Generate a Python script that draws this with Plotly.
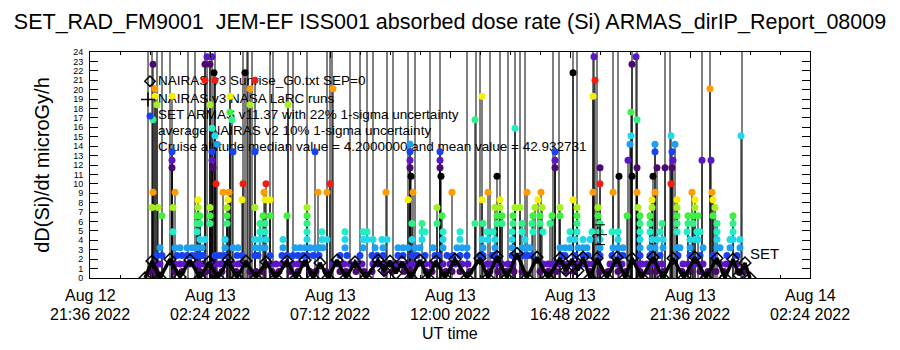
import plotly.graph_objects as go
import pandas as pd

# ---------------- data (times in hours after 2022-08-12 00:00 UT) ----------------
T_REF = pd.Timestamp("2022-08-12 00:00:00")
axis_start_h = 21.6
axis_end_h = 50.4
major_tick_hours = [21.6, 26.4, 31.2, 36.0, 40.8, 45.6, 50.4]
tick_line1 = ["Aug 12", "Aug 13", "Aug 13", "Aug 13", "Aug 13", "Aug 13", "Aug 14"]
tick_line2 = ["21:36 2022", "02:24 2022", "07:12 2022", "12:00 2022", "16:48 2022", "21:36 2022", "02:24 2022"]
y_tick_values = list(range(0, 25))

# SET ARMAS dose rate samples, grouped by quantised level (microGy/h)
set_levels = [0.7, 1.5, 2.4, 3.2, 4.1, 4.9, 5.8, 6.6, 7.5, 8.3, 9.1, 10.0, 10.8, 11.7,
              12.5, 13.4, 14.2, 15.1, 15.9, 16.8, 17.6, 18.4, 19.3, 20.1, 21.0, 21.8, 22.7, 23.5]
set_times = [
    [24.00, 24.24, 25.00, 25.28, 26.00, 26.24, 26.56, 26.88, 27.44, 28.00, 28.24, 28.48, 28.88, 29.16, 29.60,
     29.92, 30.40, 30.64, 31.04, 31.60, 31.84, 32.24, 32.56, 32.88, 33.36, 33.68, 34.16, 34.40, 35.04, 35.28,
     35.84, 36.08, 36.40, 36.80, 37.60, 37.92, 38.24, 38.56, 38.88, 39.60, 39.92, 40.24, 40.64, 40.96, 41.60,
     42.00, 42.32, 42.72, 43.04, 43.60, 43.92, 44.24, 44.56, 45.28, 45.60, 46.00, 46.32, 46.64, 46.96, 47.52, 47.76],
    [24.20, 24.40, 25.00, 25.20, 25.40, 25.60, 25.84, 26.00, 26.12, 26.60, 26.80, 27.00, 27.32, 27.52, 27.72,
     28.80, 29.04, 29.28, 29.40, 29.72, 29.92, 30.12, 31.32, 31.52, 31.76, 32.00, 32.28, 32.48, 32.92, 33.12,
     33.32, 33.60, 33.80, 34.00, 34.24, 34.48, 34.68, 35.00, 35.24, 35.72, 36.00, 36.20, 36.48, 36.72, 37.48,
     37.68, 37.88, 38.08, 38.32, 38.52, 39.72, 39.92, 40.12, 40.28, 40.52, 40.72, 40.92, 41.12, 41.32, 41.52,
     41.72, 42.40, 42.64, 42.88, 43.48, 43.68, 43.88, 44.08, 44.28, 44.48, 45.32, 45.52, 45.72, 45.92, 46.12,
     46.80, 47.04, 47.28, 47.48],
    [24.28, 24.48, 25.08, 25.28, 25.48, 25.68, 25.88, 26.00, 26.12, 26.60, 26.80, 27.00, 27.48, 27.68, 28.20,
     28.32, 28.80, 29.28, 29.48, 29.72, 29.92, 30.12, 30.28, 30.52, 30.76, 31.60, 31.88, 32.40, 32.88, 33.08,
     33.32, 33.92, 34.12, 34.48, 34.68, 35.00, 35.40, 35.52, 35.88, 36.12, 36.40, 36.68, 37.20, 37.32, 37.68,
     37.80, 38.48, 38.92, 39.12, 39.28, 40.48, 40.60, 41.00, 41.32, 41.52, 42.00, 42.48, 42.80, 42.92, 43.60,
     44.00, 44.40, 45.12, 45.60, 46.00, 46.52, 47.08, 47.48],
    [24.40, 25.00, 25.20, 25.48, 25.68, 25.88, 26.08, 27.00, 27.32, 27.52, 28.20, 28.40, 28.60, 29.32, 29.80,
     30.00, 30.20, 30.40, 30.60, 30.80, 30.92, 31.80, 32.52, 33.00, 33.32, 33.92, 34.12, 34.32, 34.60, 34.80,
     35.32, 35.72, 36.28, 36.48, 36.68, 37.32, 37.80, 38.48, 38.88, 39.08, 39.20, 40.40, 40.60, 40.80, 41.12,
     41.32, 41.48, 42.00, 42.52, 42.72, 42.92, 43.60, 44.00, 44.20, 44.52, 45.08, 45.20, 45.60, 46.12, 46.68,
     46.80, 47.20, 47.60],
    [26.00, 26.20, 27.00, 28.20, 28.40, 28.64, 29.32, 30.28, 30.88, 31.08, 31.80, 32.52, 32.68, 32.92, 33.28,
     33.48, 34.48, 34.88, 35.72, 36.40, 37.28, 37.52, 37.80, 38.48, 39.00, 40.80, 41.00, 41.32, 41.60, 42.00,
     42.72, 43.60, 44.08, 44.28, 44.52, 45.60, 45.80, 45.92, 46.68, 47.20, 47.32, 47.60],
    [24.92, 25.88, 28.40, 28.60, 30.28, 30.88, 31.80, 32.52, 32.68, 34.88, 35.00, 35.72, 36.40, 37.48, 37.72,
     38.48, 38.88, 39.32, 39.72, 40.80, 41.08, 41.68, 42.00, 42.48, 42.72, 43.60, 44.00, 44.40, 45.08, 45.48,
     45.88, 46.00, 46.68, 47.32],
    [25.88, 26.00, 26.40, 27.08, 28.40, 28.60, 30.28, 34.48, 34.88, 35.48, 37.00, 37.32, 37.88, 38.08, 38.52,
     38.88, 39.28, 39.60, 40.00, 41.08, 42.00, 43.60, 44.00, 44.48, 45.08, 45.52, 45.72, 46.68, 47.32],
    [24.48, 25.88, 26.00, 26.40, 27.08, 28.52, 28.80, 29.48, 30.28, 35.68, 37.88, 38.08, 38.52, 39.32, 39.60,
     40.08, 40.40, 41.08, 41.92, 43.08, 43.60, 44.00, 45.08, 45.52, 45.72, 45.92, 46.52, 47.32],
    [24.08, 24.32, 24.92, 25.92, 26.40, 27.08, 28.20, 30.28, 35.48, 37.80, 38.00, 38.60, 38.80, 39.40, 39.68,
     40.40, 41.08, 41.92, 43.52, 44.08, 45.08, 45.80, 46.60],
    [25.92, 27.12, 27.68, 28.60, 28.80, 34.32, 37.28, 38.00, 39.52, 40.92, 44.08, 45.08, 45.80, 46.52],
    [24.12, 25.00, 26.92, 27.16, 28.56, 30.72, 31.08, 33.44, 34.52, 36.08, 37.52, 39.08, 39.64, 41.72, 42.52,
     43.48, 44.20, 45.68, 46.48],
    [26.64, 27.72, 28.64, 31.20, 42.00, 44.84],
    [34.44, 35.64, 37.88, 42.76, 43.28, 44.12],
    [24.88, 26.52, 34.40, 35.60, 40.20, 42.00, 43.48, 44.28, 44.60, 44.88],
    [24.88, 26.48, 34.40, 35.60, 40.20, 43.12, 44.92, 46.08, 46.44],
    [24.88, 26.48, 27.32, 28.20, 30.60, 34.40, 35.60, 40.20, 44.20, 44.88],
    [26.68, 34.40, 43.20, 44.20, 45.00],
    [26.60, 43.24, 44.84, 47.64],
    [26.48, 38.60],
    [24.12, 27.28, 37.00, 43.48],
    [27.20, 43.24],
    [24.28, 26.40, 28.00, 29.52],
    [24.20, 24.88, 27.20, 37.28, 41.72],
    [24.20, 28.00, 31.32, 46.40],
    [26.20, 26.60, 28.20, 41.80],
    [26.56, 27.80, 40.92],
    [24.12, 26.20, 26.40, 43.28],
    [26.28, 26.48, 41.76, 43.44],
]

# SET ARMAS off-scale excursions (line goes above the top of the plot)
spike_hours = [23.92, 24.08, 24.28, 24.48, 24.80, 25.52, 25.80, 26.20, 26.40, 26.60, 27.20, 27.72, 27.88,
               27.92, 28.08, 28.80, 28.92, 29.52, 29.72, 30.28, 31.08, 31.20, 31.28, 32.00, 32.40, 32.68,
               32.92, 33.48, 33.72, 34.32, 34.60, 35.20, 35.60, 36.68, 37.04, 37.20, 37.60, 38.00, 38.32,
               38.60, 38.80, 39.00, 40.12, 40.36, 40.92, 41.08, 41.72, 41.88, 42.52, 42.72, 43.28, 43.48,
               44.60, 44.80, 46.08, 46.40, 47.68]
spike_peaks = [48, 61, 35, 52, 40, 33, 45, 70, 88, 64, 41, 57, 49, 66, 38, 44, 30, 52, 47, 39, 36, 58, 43,
               31, 46, 37, 55, 42, 34, 60, 40, 35, 71, 33, 45, 38, 52, 41, 63, 36, 44, 30, 39, 47, 58, 50,
               42, 61, 37, 33, 54, 46, 40, 32, 44, 36, 29]

# NAIRAS v3 model (black diamonds)
nairas_hours = [23.80, 24.08, 24.40, 24.80, 25.20, 25.60, 26.00, 26.36, 26.72, 27.12, 27.48, 27.84, 28.24,
                28.64, 29.04, 29.48, 29.84, 30.20, 30.52, 30.80, 31.12, 31.48, 31.84, 32.20, 32.64, 33.12,
                33.36, 33.60, 33.84, 34.08, 34.44, 34.80, 35.12, 35.44, 35.80, 36.20, 36.68, 37.20, 37.52,
                37.88, 38.28, 38.68, 39.08, 39.48, 39.92, 40.40, 40.64, 40.88, 41.12, 41.32, 41.60, 41.88,
                42.28, 42.68, 43.00, 43.28, 43.68, 44.12, 44.52, 44.92, 45.36, 45.80, 46.24, 46.68, 47.00,
                47.32, 47.56, 47.80, 48.00]
nairas_values = [0.0, 1.8, 0.0, 2.0, 0.1, 1.9, 0.0, 1.7, 0.0, 1.9, 0.0, 1.8, 0.0, 1.7, 0.0, 1.8, 0.0, 1.9,
                 0.0, 1.6, 0.0, 1.9, 0.0, 1.7, 0.0, 1.9, 0.8, 1.8, 0.5, 1.7, 0.0, 1.9, 0.0, 1.8, 0.0, 2.0,
                 0.0, 2.1, 0.0, 2.3, 0.0, 2.6, 0.0, 2.2, 0.0, 2.1, 0.8, 2.0, 0.8, 2.2, 0.0, 2.1, 0.0, 2.2,
                 0.0, 2.1, 0.0, 2.2, 0.0, 2.1, 0.0, 2.2, 0.0, 2.1, 0.0, 2.0, 0.3, 1.6, 0.0]

# NAIRAS v3 NASA LaRC run with uncertainty
larc_hours = [42.00]
larc_values = [4.6]
larc_errors = [1.05]

legend_lines = [
    "NAIRAS v3 Sunrise_G0.txt SEP=0",
    "NAIRAS v3 NASA LaRC runs",
    "SET ARMAS v11.37 with 22% 1-sigma uncertainty",
    "average NAIRAS v2 10% 1-sigma uncertainty",
    "Cruise altitude median value = 4.2000000 and mean value = 42.932731",
]

# IDL "Rainbow + white"-like cyclic colouring of the quantised levels
level_palette = ["#000000", "#4c0a70", "#5a16c8", "#1a40f0", "#1ea0f0", "#20d8e8", "#20eec4",
                 "#30f088", "#40f040", "#a4f020", "#f4f000", "#ff9a00", "#f01e10"]
LEVEL_STEP = 0.845


def ts(hours):
    return [None if h is None else T_REF + pd.Timedelta(hours=h) for h in hours]


def level_color(v):
    k = int(round((v + 0.15) / LEVEL_STEP))
    return level_palette[k % len(level_palette)]


FONT = "Liberation Sans, Arial, sans-serif"
fig = go.Figure()

# black connecting line of the SET series: off-scale excursions + stems through stacked samples
line_x, line_y = [], []
for h, p in zip(spike_hours, spike_peaks):
    line_x += [h, h, None]
    line_y += [0, p, None]
for lev, hs in zip(set_levels, set_times):
    if lev >= 5.8:
        for h in hs:
            line_x += [h, h, None]
            line_y += [0, lev, None]
fig.add_trace(go.Scatter(x=ts(line_x), y=line_y, mode="lines",
                         line=dict(color="black", width=1), hoverinfo="skip"))

# legend-like texts (drawn under the data symbols, like the original)
legend_text_hour = 24.32
legend_text_vals = [20.9, 18.95, 17.2, 15.5, 13.8]
fig.add_trace(go.Scatter(x=ts([legend_text_hour] * 5), y=legend_text_vals, mode="text",
                         text=legend_lines, textposition="middle right",
                         textfont=dict(family=FONT, size=13.5, color="black"), hoverinfo="skip"))

# coloured SET dots
dot_x, dot_y, dot_c = [], [], []
for lev, hs in zip(set_levels, set_times):
    for h in hs:
        dot_x.append(h)
        dot_y.append(lev)
        dot_c.append(level_color(lev))
fig.add_trace(go.Scatter(x=ts(dot_x), y=dot_y, mode="markers",
                         marker=dict(symbol="circle", size=7, color=dot_c, line=dict(width=0))))

# NAIRAS black diamonds
fig.add_trace(go.Scatter(x=ts(nairas_hours), y=nairas_values, mode="lines+markers",
                         line=dict(color="black", width=3.5),
                         marker=dict(symbol="diamond-open", size=9, color="black", line=dict(width=1.5))))

# LaRC run with error bar
fig.add_trace(go.Scatter(x=ts(larc_hours), y=larc_values, mode="markers",
                         marker=dict(symbol="cross-thin-open", size=10, color="black", line=dict(width=1, color="black")),
                         error_y=dict(type="data", array=larc_errors, color="black", thickness=1, width=5)))

# legend symbols
fig.add_trace(go.Scatter(x=ts([24.0]), y=[20.9], mode="markers",
                         marker=dict(symbol="diamond-open", size=8, color="black", line=dict(width=1.5))))
fig.add_trace(go.Scatter(x=ts([23.92]), y=[18.95], mode="markers",
                         marker=dict(symbol="cross-thin-open", size=10, color="black", line=dict(width=1.5, color="black"))))
fig.add_trace(go.Scatter(x=ts([24.0]), y=[17.2], mode="markers",
                         marker=dict(symbol="circle", size=7, color="#1a40f0")))

# end label
fig.add_trace(go.Scatter(x=ts([48.0]), y=[2.45], mode="text", text=["SET"], textposition="middle right",
                         textfont=dict(family=FONT, size=15, color="black"), cliponaxis=False))

# x tick labels (two lines) and axis title as annotations
annotations = []
for h, l1, l2 in zip(major_tick_hours, tick_line1, tick_line2):
    t = T_REF + pd.Timedelta(hours=h)
    annotations.append(dict(x=t, y=0, xref="x", yref="paper", text=l1, showarrow=False,
                            yanchor="middle", yshift=-17, font=dict(family=FONT, size=16, color="black")))
    annotations.append(dict(x=t, y=0, xref="x", yref="paper", text=l2, showarrow=False,
                            yanchor="middle", yshift=-36, font=dict(family=FONT, size=16, color="black")))
annotations.append(dict(x=0.5, y=0, xref="paper", yref="paper", text="UT time", showarrow=False,
                        yanchor="middle", yshift=-55, font=dict(family=FONT, size=16, color="black")))

fig.update_layout(
    width=900, height=350,
    margin=dict(l=90, r=90, t=52, b=72),
    paper_bgcolor="white", plot_bgcolor="white",
    showlegend=False,
    font=dict(family=FONT, color="black"),
    title=dict(text="SET_RAD_FM9001  JEM-EF ISS001 absorbed dose rate (Si) ARMAS_dirIP_Report_08009",
               x=0.5, xanchor="center", y=1 - 21 / 350, yanchor="middle",
               font=dict(family=FONT, size=21.5, color="black")),
    annotations=annotations,
    xaxis=dict(type="date",
               range=ts([axis_start_h, axis_end_h]),
               tickvals=ts(major_tick_hours), showticklabels=False,
               ticks="inside", ticklen=6, tickcolor="black",
               minor=dict(ticks="inside", ticklen=3, tickcolor="black",
                          tick0=T_REF + pd.Timedelta(hours=axis_start_h), dtick=72 * 60 * 1000, showgrid=False),
               showline=True, linecolor="black", linewidth=1, mirror="ticks",
               showgrid=False, zeroline=False),
    yaxis=dict(range=[0, 24], tickmode="array", tickvals=y_tick_values,
               ticktext=[str(v) for v in y_tick_values],
               ticks="inside", ticklen=8, tickcolor="black",
               tickfont=dict(family=FONT, size=9, color="black"), ticklabelstandoff=4,
               showline=True, linecolor="black", linewidth=1, mirror="ticks",
               showgrid=False, zeroline=False,
               title=dict(text="dD(Si)/dt microGy/h", font=dict(family=FONT, size=20, color="black"), standoff=18)),
)

fig.write_html("out.html")
